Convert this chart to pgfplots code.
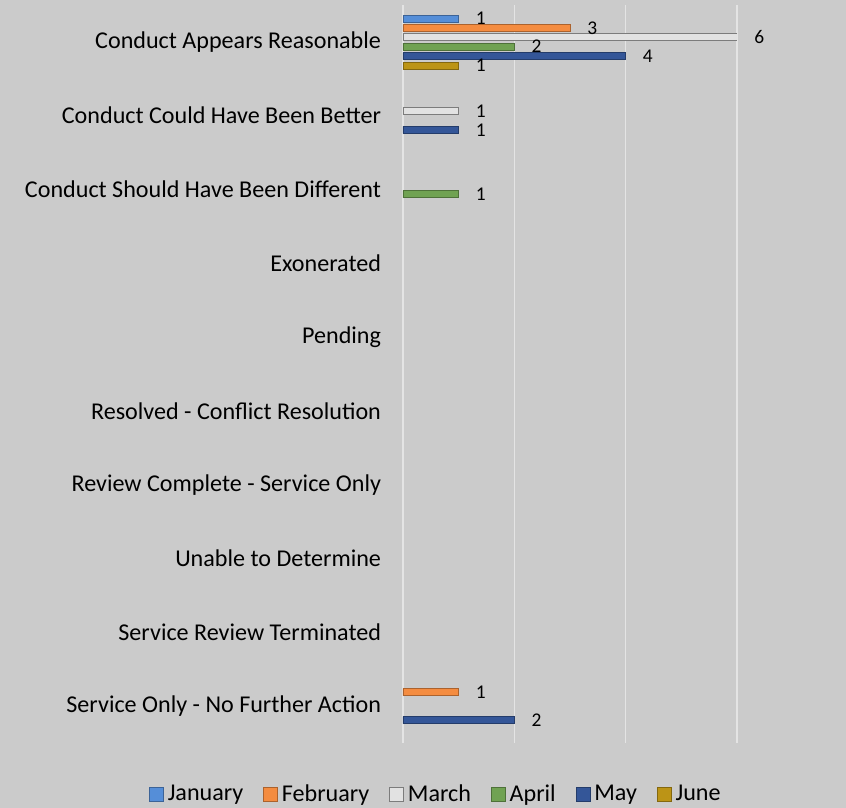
\documentclass[border=0pt]{standalone}
\usepackage{pgfplots}
\pgfplotsset{compat=1.18}
\usepackage{fontspec}
\setmainfont{Carlito}
\definecolor{bg}{RGB}{203,203,203}
\definecolor{gridc}{RGB}{228,228,228}
\definecolor{jan}{RGB}{85,142,216}
\definecolor{feb}{RGB}{244,140,64}
\definecolor{mar}{RGB}{226,226,226}
\definecolor{apr}{RGB}{112,162,82}
\definecolor{may}{RGB}{52,86,152}
\definecolor{jun}{RGB}{188,148,22}
\begin{document}
\begin{tikzpicture}
\fill[bg] (-403bp,-65bp) rectangle (443bp,743bp);
\begin{axis}[
  at={(0,0)}, anchor=south west,
  scale only axis, width=334bp, height=738bp,
  xbar, bar width=7bp,
  /pgf/number format/assume math mode=true,
  xmin=0, xmax=6, ymin=-0.5, ymax=9.5, y dir=reverse,
  xtick={0,2,4,6}, xticklabels={},
  xmajorgrids, grid style={draw=gridc, line width=1.6bp},
  ytick={0,...,9},
  yticklabels={Conduct Appears Reasonable,Conduct Could Have Been Better,Conduct Should Have Been Different,Exonerated,Pending,Resolved - Conflict Resolution,Review Complete - Service Only,Unable to Determine,Service Review Terminated,Service Only - No Further Action},
  major tick length=0pt,
  axis line style={draw=none},
  yticklabel style={font=\fontsize{24.2}{29}\selectfont, xshift=-18.5bp},
  nodes near coords,
  nodes near coords style={font=\fontsize{19.5}{23}\selectfont, anchor=west, inner sep=0pt, xshift=17bp, text=black},
  legend columns=6,
  legend style={at={(0.097,-0.069)}, anchor=center, draw=none, fill=none,
    font=\fontsize{24.2}{29}\selectfont,
    nodes={inner sep=1bp},
    /tikz/every odd column/.append style={column sep=3bp},
    /tikz/every even column/.append style={column sep=19bp}},
  legend image code/.code={\draw[#1] (0bp,-7bp) rectangle (14bp,7bp);},
]
\addplot[bar shift=23.5bp, fill=jan, draw=jan!70!black, line width=0.6bp] coordinates {(1,0)};
\addplot[bar shift=14.1bp, fill=feb, draw=feb!70!black, line width=0.6bp] coordinates {(3,0) (1,9)};
\addplot[bar shift=4.7bp, fill=mar, draw=mar!55!black, line width=0.6bp] coordinates {(6,0) (1,1)};
\addplot[bar shift=-4.7bp, fill=apr, draw=apr!70!black, line width=0.6bp] coordinates {(2,0) (1,2)};
\addplot[bar shift=-14.1bp, fill=may, draw=may!70!black, line width=0.6bp] coordinates {(4,0) (1,1) (2,9)};
\addplot[bar shift=-23.5bp, fill=jun, draw=jun!70!black, line width=0.6bp] coordinates {(1,0)};
\legend{January,February,March,April,May,June}
\end{axis}
\pgfresetboundingbox
\path (-403bp,-65bp) rectangle (443bp,743bp);
\end{tikzpicture}
\end{document}
